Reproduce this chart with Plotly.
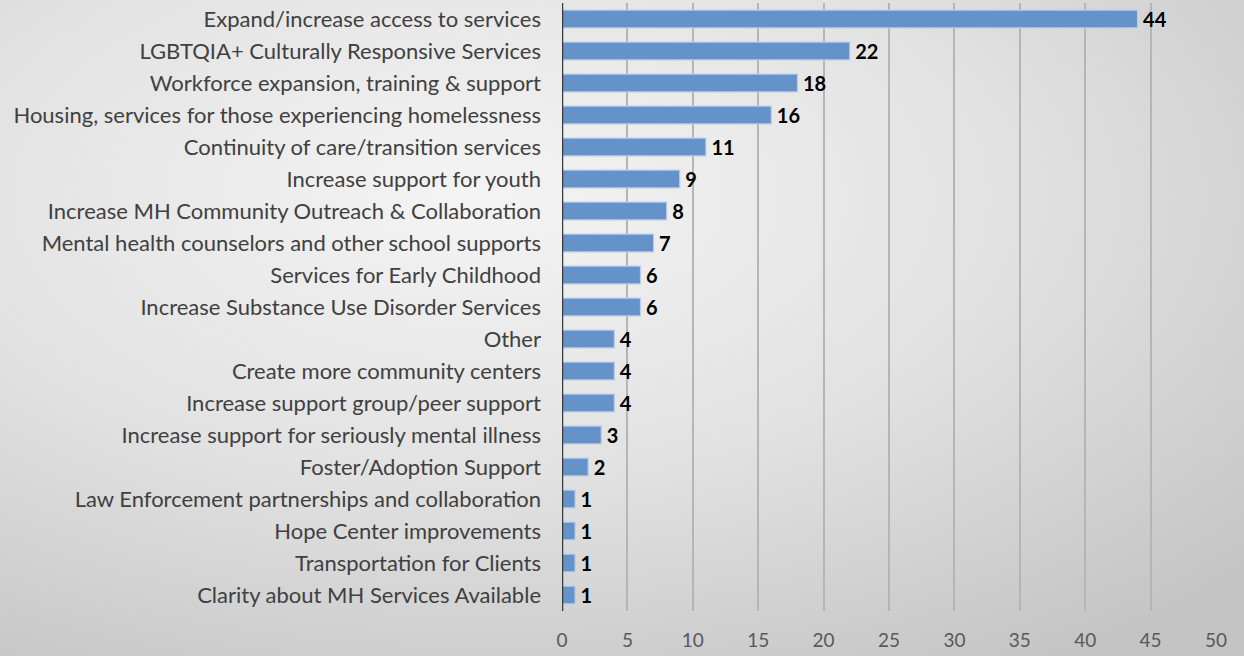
import plotly.graph_objects as go
import base64

categories = [
    "Expand/increase access to services",
    "LGBTQIA+ Culturally Responsive Services",
    "Workforce expansion, training & support",
    "Housing, services for those experiencing homelessness",
    "Continuity of care/transition services",
    "Increase support for youth",
    "Increase MH Community Outreach & Collaboration",
    "Mental health counselors and other school supports",
    "Services for Early Childhood",
    "Increase Substance Use Disorder Services",
    "Other",
    "Create more community centers",
    "Increase support group/peer support",
    "Increase support for seriously mental illness",
    "Foster/Adoption Support",
    "Law Enforcement partnerships and collaboration",
    "Hope Center improvements",
    "Transportation for Clients",
    "Clarity about MH Services Available",
]
counts = [44, 22, 18, 16, 11, 9, 8, 7, 6, 6, 4, 4, 4, 3, 2, 1, 1, 1, 1]
tick_values = [0, 5, 10, 15, 20, 25, 30, 35, 40, 45, 50]

# Soft radial grey background drawn as an inline SVG
bg_svg = """<svg xmlns='http://www.w3.org/2000/svg' width='1244' height='656'>
<defs><radialGradient id='g' cx='0.38' cy='0.3' r='0.85'>
<stop offset='0' stop-color='#f4f4f4'/>
<stop offset='0.5' stop-color='#e2e2e2'/>
<stop offset='1' stop-color='#c4c4c4'/>
</radialGradient></defs>
<rect width='1244' height='656' fill='url(#g)'/></svg>"""
bg_uri = "data:image/svg+xml;base64," + base64.b64encode(bg_svg.encode()).decode()

fig = go.Figure(
    go.Bar(
        x=counts,
        y=categories,
        orientation="h",
        width=0.56,
        marker=dict(color="#6592c8", line=dict(color="#b7cde9", width=1.2)),
        text=["\u2009" + str(c) for c in counts],
        textposition="outside",
        constraintext="none",
        cliponaxis=False,
        textfont=dict(family="Lato", size=20, color="#000000", weight="bold"),
    )
)

fig.update_layout(
    width=1244,
    height=656,
    margin=dict(l=562, r=28, t=3, b=45),
    paper_bgcolor="rgba(0,0,0,0)",
    plot_bgcolor="rgba(0,0,0,0)",
    showlegend=False,
    images=[dict(source=bg_uri, xref="paper", yref="paper", x=-562/654, y=1 + 3/608,
                 sizex=1244/654, sizey=656/608, sizing="stretch",
                 xanchor="left", yanchor="top", layer="below")],
    font=dict(family="Lato", color="#404040"),
)

fig.update_xaxes(
    range=[0, 50],
    tickvals=tick_values,
    showgrid=True,
    gridcolor="#b5b5b5",
    gridwidth=1.5,
    zeroline=False,
    showline=False,
    tickfont=dict(size=19, color="#595959"),
    ticks="",
    ticklabelstandoff=16,
)
fig.update_yaxes(
    categoryorder="array",
    categoryarray=categories[::-1],
    tickfont=dict(size=22, color="#404040"),
    ticks="",
    ticklabelstandoff=20,
    showline=False,
    showgrid=False,
)

# Dark baseline at zero
fig.add_shape(type="line", xref="x", yref="paper", x0=0, x1=0, y0=0, y1=1,
              line=dict(color="#3a3a3a", width=2.5))

fig.write_html("out.html")
